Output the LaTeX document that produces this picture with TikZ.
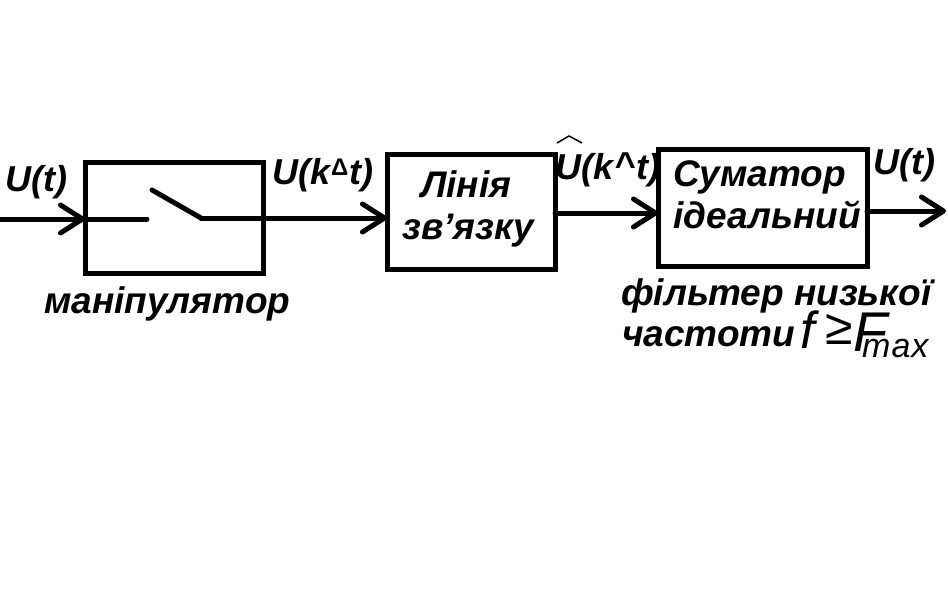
\documentclass[tikz,border=0pt]{standalone}
\usepackage{fontspec}
\setmainfont{Liberation Sans}
\usetikzlibrary{arrows.meta}
\tikzset{
    blockbox/.style={draw, line width=5pt, inner sep=0pt, outer sep=0pt, align=center},
    wire/.style={line width=5pt, line cap=round},
    signal/.style={wire, -{Straight Barb[round, length=22pt, width=28pt, line width=5pt]}},
    caption/.style={inner sep=0pt, anchor=base west, font=\fontsize{37}{40}\selectfont\bfseries\itshape},
    siglabel/.style={inner sep=0pt, anchor=base west, font=\fontsize{36}{40}\selectfont\bfseries\itshape},
    formula/.style={inner sep=0pt, anchor=base west, font=\fontsize{#1}{#1}\selectfont\itshape},
}
\begin{document}
\begin{tikzpicture}[x=1pt, y=-1pt]
    \useasboundingbox (0,0) rectangle (948,605);

    % blocks
    \node[blockbox, minimum width=178pt, minimum height=111pt] (manip) at (174,217.5) {};
    \node[blockbox, minimum width=168pt, minimum height=115pt] (line) at (471,211.5) {};
    \node[blockbox, minimum width=209pt, minimum height=117pt] (sum) at (762.5,207.5) {};

    % wires
    \coordinate (in) at (0,219);
    \coordinate (swa) at (147,219);
    \coordinate (swb) at (201,218);
    \coordinate (swc) at (152,190);
    \coordinate (out) at (946,211);
    \draw[signal] (in) -- (in -| manip.west);
    \draw[wire] (in -| manip.west) -- (swa);
    \draw[wire] (swc) -- (swb);
    \draw[signal] (swb) -- (swb -| line.west);
    \draw[signal] (555,213) coordinate (lineout) -- (lineout -| sum.west);
    \draw[signal] (out -| sum.east) -- (out);

    % labels
    \node[siglabel] (uin) at (5,191) {U(t)};
    \node[siglabel] (uk) at (272,184) {U(k\kern1pt\raisebox{9pt}{\fontsize{24}{24}\selectfont\upshape Δ}\kern1pt t)};
    \node[siglabel] (uhat) at (555,179) {U(k\kern1pt\raisebox{2pt}{\^{}}\kern1pt t)};
    \draw[line width=1.5pt] (557,143) -- (569,136) -- (582,143);
    \node[siglabel] (uout) at (873,174) {U(t)};

    \node[caption] (lin1) at (421,197) {Лінія};
    \node[caption] (lin2) at (402,239) {зв’язку};
    \node[caption] (sum1) at (673,186) {Суматор};
    \node[caption] (sum2) at (673,228) {ідеальний};
    \node[caption] (mancap) at (44,313) {маніпулятор};
    \node[caption] (fil1) at (621,305) {фільтер низької};
    \node[caption] (fil2) at (622,346) {частоти};

    \node[formula=52] (ff) at (800,348) {f};
    \node[formula=50, font=\fontsize{50}{50}\selectfont] (geq) at (825,344) {≥};
    \node[formula=56] (fF) at (853,351) {F};
    \node[formula=34] (fmax) at (862,357) {m\kern1pt a\kern1pt x};
\end{tikzpicture}
\end{document}
